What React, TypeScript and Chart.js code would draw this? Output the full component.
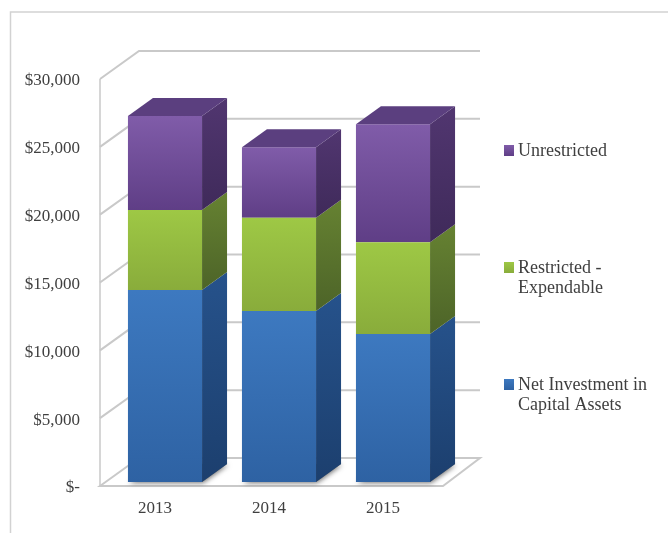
import React, { useEffect, useRef } from "react";
import { Chart, registerables } from "chart.js";

Chart.register(...registerables);

const years = ["2013", "2014", "2015"];
const netInvestment = [14150, 12600, 10910];
const restrictedExpendable = [5900, 6880, 6760];
const unrestricted = [6930, 5190, 8700];
const yTicks = [0, 5000, 10000, 15000, 20000, 25000, 30000];

const legendNet = ["Net Investment in", "Capital Assets"];
const legendRestricted = ["Restricted -", "Expendable"];
const legendUnrestricted = ["Unrestricted"];

const FONT = '"Liberation Serif", serif';
const TEXT = "#3f3f3f";
const GRID = "#c9c9c9";

// Shades per series: front top, front bottom, side top, side bottom, cap
const shades = [
  { front: ["#3d79c0", "#2e62a3"], side: ["#26528b", "#1c3f6e"], cap: "#2b5a94" },
  { front: ["#9ec845", "#89ac3b"], side: ["#668232", "#4d6428"], cap: "#6f8d36" },
  { front: ["#805ca9", "#5f3e86"], side: ["#513670", "#3f2a5a"], cap: "#5b3f7f" },
];

const SERIES = [netInvestment, restrictedExpendable, unrestricted];

// Oblique projection of the plot box and of the bars standing on its floor
const WALL_DX = 39;
const WALL_DY = -28;
const BAR_DX = 25;
const BAR_DY = -18;
const BAR_SHIFT_X = 8;
const BAR_SHIFT_Y = -4;

const poly = (ctx: CanvasRenderingContext2D, pts: number[][]) => {
  ctx.beginPath();
  pts.forEach(([x, y], i) => (i ? ctx.lineTo(x, y) : ctx.moveTo(x, y)));
  ctx.closePath();
};

const vGrad = (ctx: CanvasRenderingContext2D, y0: number, y1: number, c: string[]) => {
  const g = ctx.createLinearGradient(0, y0, 0, y1);
  g.addColorStop(0, c[0]);
  g.addColorStop(1, c[1]);
  return g;
};

const frontFill = (seriesIndex: number) => (c: any) => {
  const scale = c.chart.scales?.y;
  if (!scale || c.dataIndex === undefined) return shades[seriesIndex].front[0];
  let base = 0;
  for (let s = 0; s < seriesIndex; s++) base += SERIES[s][c.dataIndex];
  const top = base + SERIES[seriesIndex][c.dataIndex];
  const y0 = scale.getPixelForValue(top);
  const y1 = scale.getPixelForValue(base);
  if (!Number.isFinite(y0) || !Number.isFinite(y1)) return shades[seriesIndex].front[0];
  return vGrad(c.chart.ctx, y0, y1, shades[seriesIndex].front);
};

const box3d = {
  id: "box3d",
  beforeDraw(chart: any) {
    const { ctx } = chart;
    ctx.save();
    ctx.fillStyle = "#ffffff";
    ctx.fillRect(0, 0, chart.width, chart.height);
    // Outer frame
    ctx.strokeStyle = "#d2d2d2";
    ctx.lineWidth = 1.5;
    ctx.beginPath();
    ctx.moveTo(10.5, chart.height);
    ctx.lineTo(10.5, 12);
    ctx.lineTo(chart.width, 12);
    ctx.stroke();
    ctx.restore();
  },
  beforeDatasetsDraw(chart: any) {
    const { ctx, chartArea: a, scales } = chart;
    const yS = scales.y;
    ctx.save();
    ctx.strokeStyle = GRID;
    ctx.lineWidth = 1.5;
    // Side wall, back wall and floor
    ctx.beginPath();
    ctx.moveTo(a.left, yS.getPixelForValue(30000));
    ctx.lineTo(a.left, yS.getPixelForValue(0));
    ctx.stroke();
    yTicks.forEach((v) => {
      const y = yS.getPixelForValue(v);
      ctx.beginPath();
      ctx.moveTo(a.left, y);
      ctx.lineTo(a.left + WALL_DX, y + WALL_DY);
      ctx.lineTo(a.right + WALL_DX - 1, y + WALL_DY);
      if (v === 0) {
        ctx.lineTo(a.right + 1, y);
        ctx.closePath();
        ctx.lineWidth = 2;
      }
      ctx.stroke();
    });
    ctx.restore();

    ctx.save();
    ctx.translate(BAR_SHIFT_X, BAR_SHIFT_Y);
    // Soft contact shadow on the floor
    const meta0 = chart.getDatasetMeta(0);
    meta0.data.forEach((el: any) => {
      const l = el.x - el.width / 2;
      const r = el.x + el.width / 2;
      ctx.save();
      ctx.shadowColor = "rgba(0,0,0,0.55)";
      ctx.shadowBlur = 5;
      ctx.shadowOffsetX = 1;
      ctx.shadowOffsetY = 1;
      ctx.fillStyle = "#6b6b6b";
      poly(ctx, [
        [l, el.base],
        [r, el.base],
        [r + BAR_DX, el.base + BAR_DY],
        [l + BAR_DX, el.base + BAR_DY],
      ]);
      ctx.fill();
      ctx.restore();
    });
  },
  afterDatasetsDraw(chart: any) {
    const { ctx } = chart;
    const count = chart.data.datasets.length;
    for (let s = 0; s < count; s++) {
      const meta = chart.getDatasetMeta(s);
      meta.data.forEach((el: any) => {
        const l = el.x - el.width / 2;
        const r = el.x + el.width / 2;
        const top = el.y;
        const bot = el.base;
        ctx.fillStyle = vGrad(ctx, top + BAR_DY, bot, shades[s].side);
        poly(ctx, [
          [r, top],
          [r + BAR_DX, top + BAR_DY],
          [r + BAR_DX, bot + BAR_DY],
          [r, bot],
        ]);
        ctx.fill();
        if (s === count - 1) {
          ctx.fillStyle = shades[s].cap;
          poly(ctx, [
            [l, top],
            [l + BAR_DX, top + BAR_DY],
            [r + BAR_DX, top + BAR_DY],
            [r, top],
          ]);
          ctx.fill();
        }
      });
    }
    ctx.restore();

    // Legend, placed level with the stacked series it names
    const entries = [
      { lines: legendUnrestricted, s: 2, y: 150 },
      { lines: legendRestricted, s: 1, y: 267 },
      { lines: legendNet, s: 0, y: 384 },
    ];
    ctx.save();
    ctx.font = `18px ${FONT}`;
    ctx.textBaseline = "middle";
    ctx.textAlign = "left";
    entries.forEach(({ lines, s, y }) => {
      ctx.fillStyle = vGrad(ctx, y - 5, y + 6, shades[s].front);
      ctx.fillRect(504, y - 5, 10, 11);
      ctx.fillStyle = TEXT;
      lines.forEach((t, i) => ctx.fillText(t, 518, y + 1 + i * 20.5));
    });
    ctx.restore();
  },
};

export default function App() {
  const ref = useRef<HTMLCanvasElement>(null);

  useEffect(() => {
    if (!ref.current) return;
    const chart = new Chart(ref.current, {
      type: "bar",
      data: {
        labels: years,
        datasets: [
          { label: legendNet.join(" "), data: netInvestment, backgroundColor: frontFill(0) },
          { label: legendRestricted.join(" "), data: restrictedExpendable, backgroundColor: frontFill(1) },
          { label: legendUnrestricted.join(" "), data: unrestricted, backgroundColor: frontFill(2) },
        ],
      },
      options: {
        animation: false,
        responsive: false,
        clip: false,
        barPercentage: 0.65,
        categoryPercentage: 1,
        layout: { padding: { left: 0, right: 226, top: 79, bottom: 0 } },
        plugins: { legend: { display: false }, tooltip: { enabled: false } },
        scales: {
          x: {
            stacked: true,
            grid: { display: false },
            border: { display: false },
            afterFit: (s: any) => {
              s.height = 47;
            },
            ticks: {
              color: TEXT,
              padding: 4,
              labelOffset: -2,
              maxRotation: 0,
              font: { family: FONT, size: 17 },
            },
          },
          y: {
            stacked: true,
            min: 0,
            max: 30000,
            grid: { display: false },
            border: { display: false },
            afterFit: (s: any) => {
              s.width = 100;
            },
            afterBuildTicks: (s: any) => {
              s.ticks = yTicks.map((value) => ({ value }));
            },
            ticks: {
              color: TEXT,
              padding: 12,
              labelOffset: 2,
              font: { family: FONT, size: 17 },
              callback: (v: any) => (v === 0 ? "$-" : "$" + Number(v).toLocaleString("en-US")),
            },
          },
        },
      },
      plugins: [box3d],
    } as any);
    return () => chart.destroy();
  }, []);

  return (
    <canvas
      ref={ref}
      width={668}
      height={533}
      style={{ position: "fixed", left: 0, top: 0, width: 668, height: 533, display: "block" }}
    />
  );
}
